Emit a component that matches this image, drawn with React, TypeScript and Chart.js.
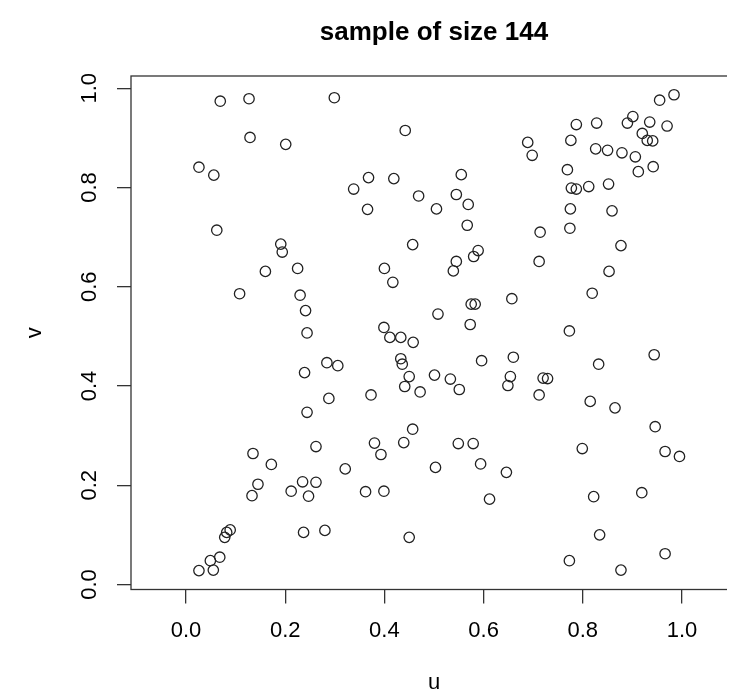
import React, { useEffect, useRef } from "react";
import { Chart, registerables } from "chart.js";

Chart.register(...registerables);

// ---- data ----
const uValues = [
  0.069, 0.127, 0.299, 0.129, 0.201, 0.026, 0.056, 0.062, 0.191, 0.194, 0.160, 0.225, 0.108, 0.230, 0.241, 0.244,
  0.442, 0.689, 0.698, 0.338, 0.368, 0.419, 0.555, 0.469, 0.545, 0.569, 0.366, 0.505, 0.567, 0.457, 0.589, 0.580,
  0.545, 0.539, 0.400, 0.417, 0.657, 0.508, 0.575, 0.583, 0.573, 0.399, 0.714, 0.712,
  0.984, 0.955, 0.901, 0.890, 0.935, 0.970, 0.787, 0.828, 0.920, 0.930, 0.941, 0.776, 0.826, 0.850, 0.879, 0.906,
  0.912, 0.942, 0.769, 0.777, 0.787, 0.812, 0.852, 0.775, 0.859, 0.774, 0.877, 0.853, 0.819, 0.773,
  0.284, 0.306, 0.239, 0.288, 0.244, 0.262, 0.135, 0.172, 0.145, 0.133, 0.212, 0.235, 0.262, 0.247, 0.089, 0.082,
  0.078, 0.237, 0.280, 0.068, 0.049, 0.026, 0.055,
  0.411, 0.433, 0.458, 0.433, 0.436, 0.450, 0.441, 0.472, 0.501, 0.533, 0.551, 0.596, 0.660, 0.654, 0.649, 0.373,
  0.457, 0.380, 0.393, 0.439, 0.549, 0.579, 0.594, 0.646, 0.612, 0.321, 0.503, 0.362, 0.399, 0.450,
  0.944, 0.832, 0.720, 0.729, 0.712, 0.815, 0.865, 0.946, 0.799, 0.966, 0.995, 0.822, 0.919, 0.834, 0.966, 0.773,
  0.877,
];
const vValues = [
  0.974, 0.979, 0.981, 0.901, 0.887, 0.841, 0.825, 0.714, 0.686, 0.670, 0.631, 0.637, 0.586, 0.583, 0.552, 0.507,
  0.915, 0.891, 0.865, 0.797, 0.820, 0.818, 0.826, 0.783, 0.786, 0.766, 0.756, 0.757, 0.724, 0.685, 0.673, 0.661,
  0.651, 0.632, 0.637, 0.609, 0.576, 0.545, 0.565, 0.565, 0.524, 0.518, 0.710, 0.651,
  0.987, 0.976, 0.943, 0.930, 0.932, 0.924, 0.927, 0.930, 0.909, 0.895, 0.894, 0.895, 0.878, 0.875, 0.870, 0.862,
  0.832, 0.842, 0.836, 0.799, 0.797, 0.802, 0.807, 0.757, 0.753, 0.718, 0.683, 0.631, 0.587, 0.511,
  0.447, 0.441, 0.427, 0.375, 0.347, 0.278, 0.264, 0.242, 0.202, 0.179, 0.188, 0.207, 0.206, 0.178, 0.110, 0.105,
  0.095, 0.105, 0.109, 0.055, 0.048, 0.028, 0.029,
  0.498, 0.498, 0.488, 0.455, 0.444, 0.419, 0.399, 0.388, 0.422, 0.414, 0.393, 0.451, 0.458, 0.419, 0.401, 0.382,
  0.313, 0.285, 0.262, 0.286, 0.284, 0.284, 0.243, 0.226, 0.172, 0.233, 0.236, 0.187, 0.188, 0.095,
  0.463, 0.444, 0.416, 0.415, 0.382, 0.369, 0.356, 0.318, 0.274, 0.268, 0.258, 0.177, 0.185, 0.100, 0.062, 0.048,
  0.029,
];

const xTickValues = [0, 0.2, 0.4, 0.6, 0.8, 1.0];
const xTickLabels = ["0.0", "0.2", "0.4", "0.6", "0.8", "1.0"];
const yTickValues = [0, 0.2, 0.4, 0.6, 0.8, 1.0];
const yTickLabels = ["0.0", "0.2", "0.4", "0.6", "0.8", "1.0"];

const titleText = "sample of size 144";
const xLabel = "u";
const yLabel = "v";

const X_MIN = -0.111;
const X_MAX = 1.111;
const Y_MIN = -0.0101;
const Y_MAX = 1.0248;

const FONT = "'Liberation Sans', Arial, Helvetica, sans-serif";
const INK = "#222";

const framePlugin = {
  id: "rframe",
  afterDraw(chart: any) {
    const { ctx, chartArea: a } = chart;
    ctx.save();
    ctx.strokeStyle = "#333";
    ctx.lineWidth = 1.3;
    ctx.strokeRect(a.left, a.top, a.right - a.left, a.bottom - a.top);
    ctx.fillStyle = "#000";
    ctx.font = `bold 26px ${FONT}`;
    ctx.textAlign = "center";
    ctx.textBaseline = "alphabetic";
    ctx.fillText(titleText, (a.left + a.right) / 2, a.top - 36.5);
    ctx.restore();
  },
};

export default function App() {
  const ref = useRef<HTMLCanvasElement | null>(null);

  useEffect(() => {
    if (!ref.current) return;
    const points = uValues.map((u, i) => ({ x: u, y: vValues[i] }));
    const chart = new Chart(ref.current, {
      type: "scatter",
      data: {
        datasets: [
          {
            data: points,
            pointRadius: 5.2,
            pointHoverRadius: 5.2,
            pointBorderWidth: 1.3,
            pointBorderColor: INK,
            pointBackgroundColor: "rgba(0,0,0,0)",
            showLine: false,
          },
        ],
      },
      options: {
        responsive: false,
        animation: false,
        events: [],
        layout: { padding: { left: 0, top: 68, right: 31, bottom: 28.5 } },
        plugins: {
          legend: { display: false },
          tooltip: { enabled: false },
          title: { display: false },
        },
        scales: {
          x: {
            type: "linear",
            min: X_MIN,
            max: X_MAX,
            afterBuildTicks: (s: any) => {
              s.ticks = xTickValues.map((v) => ({ value: v }));
            },
            afterFit: (s: any) => {
              s.height = 110;
            },
            ticks: {
              autoSkip: false,
              maxRotation: 0,
              minRotation: 0,
              padding: 14.3,
              color: "#000",
              font: { family: FONT, size: 22 },
              callback: (_v: any, i: number) => xTickLabels[i],
            },
            grid: {
              display: true,
              drawOnChartArea: false,
              drawTicks: true,
              tickLength: 14,
              tickColor: "#333",
              tickWidth: 1.3,
              color: "#333",
              lineWidth: 1.3,
            },
            border: { display: false },
            title: {
              display: true,
              text: xLabel,
              color: "#000",
              font: { family: FONT, size: 22 },
              padding: { top: 0, bottom: 3.3 },
            },
          },
          y: {
            type: "linear",
            min: Y_MIN,
            max: Y_MAX,
            afterBuildTicks: (s: any) => {
              s.ticks = yTickValues.map((v) => ({ value: v }));
            },
            afterFit: (s: any) => {
              s.width = 123;
            },
            ticks: {
              autoSkip: false,
              minRotation: 90,
              maxRotation: 90,
              crossAlign: "center",
              padding: 11.7,
              color: "#000",
              font: { family: FONT, size: 22 },
              callback: (_v: any, i: number) => yTickLabels[i],
            },
            grid: {
              display: true,
              drawOnChartArea: false,
              drawTicks: true,
              tickLength: 14,
              tickColor: "#333",
              tickWidth: 1.3,
              color: "#333",
              lineWidth: 1.3,
            },
            border: { display: false },
            title: {
              display: true,
              text: yLabel,
              color: "#000",
              font: { family: FONT, size: 22 },
              padding: { top: 13.8, bottom: 0 },
            },
          },
        },
      } as any,
      plugins: [framePlugin],
    });
    return () => chart.destroy();
  }, []);

  return (
    <div style={{ width: 727, height: 683, overflow: "hidden", background: "#fff" }}>
      <canvas ref={ref} width={760} height={720} style={{ display: "block", width: 760, height: 720 }} />
    </div>
  );
}
